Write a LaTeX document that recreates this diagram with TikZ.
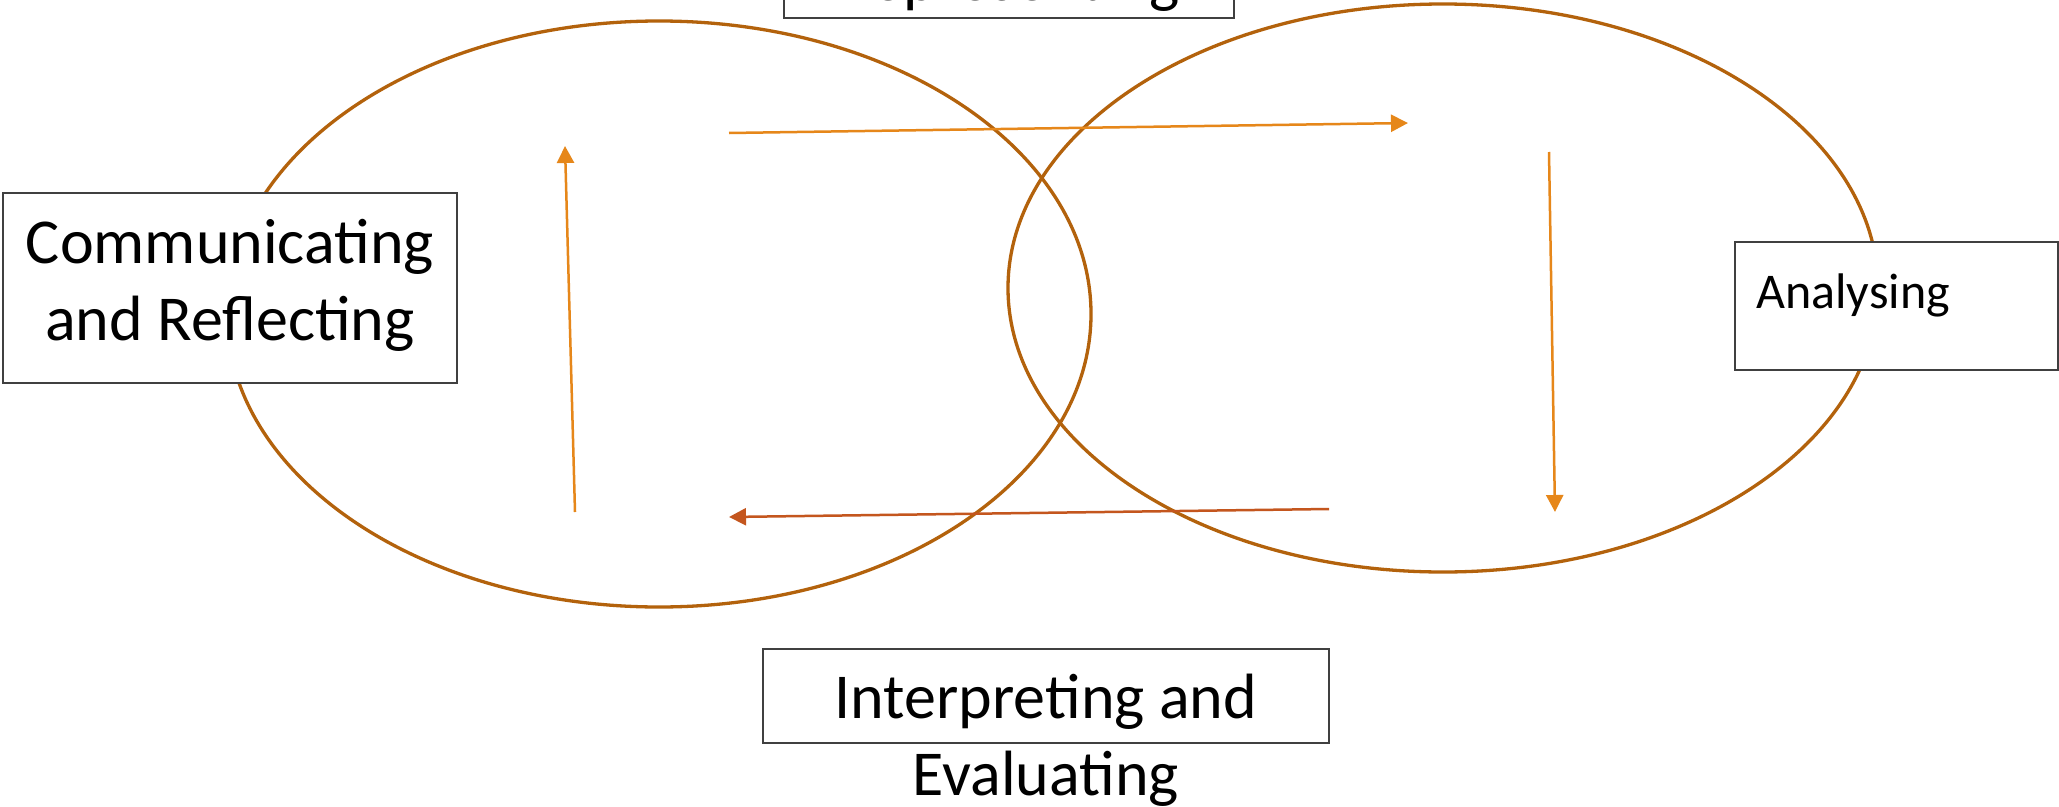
\documentclass[tikz,border=0pt]{standalone}
\usepackage{fontspec}
\setmainfont{Carlito}
\usetikzlibrary{arrows.meta}
\definecolor{ellcol}{HTML}{B3620C}
\definecolor{arrcol}{HTML}{E6871A}
\definecolor{arrred}{HTML}{C4561E}
\definecolor{boxcol}{HTML}{404040}
\begin{document}
\begin{tikzpicture}[x=1pt,y=-1pt,
  ring/.style={draw=ellcol,line width=3.3pt},
  flow/.style={draw=arrcol,line width=2.5pt,-{Triangle[length=17pt,width=17pt]}},
  flowback/.style={flow,draw=arrred},
  labelbox/.style={draw=boxcol,line width=1.6pt,fill=white,inner sep=0pt},
  labeltext/.style={font=\fontsize{64}{77}\selectfont,align=center,inner sep=0pt,anchor=base}
]
\useasboundingbox[fill=white] (0,0) rectangle (2059,806);
% ellipses
\draw[ring] (659,314) ellipse [x radius=432, y radius=293];
\draw[ring] (1443,288) ellipse [x radius=435, y radius=284];
% boxes
\node[labelbox,minimum width=454pt,minimum height=190pt] (crbox) at (230,288) {};
\node[labeltext] (cr) at (230,340) {Communicating\\and Reflecting};
\node[labelbox,minimum width=450pt,minimum height=98pt] (repbox) at (1009,-31) {};
\node[labeltext] (rep) at (1009,0) {Representing};
\node[labelbox,minimum width=323pt,minimum height=128pt] (anbox) at (1896.5,306) {};
\node[labeltext,font=\fontsize{50}{60}\selectfont,anchor=base west] (an) at (1756,308) {Analysing};
\node[labelbox,minimum width=566pt,minimum height=94pt] (iebox) at (1046,696) {};
\node[labeltext] (ie) at (1046,795) {Interpreting and\\Evaluating};
% arrows
\coordinate (a1) at (729,133); \coordinate (a2) at (1408,123);
\coordinate (b1) at (1549,152); \coordinate (b2) at (1555,512);
\coordinate (c1) at (1329,509); \coordinate (c2) at (729,517);
\coordinate (d1) at (575,512); \coordinate (d2) at (565,146);
\draw[flow] (a1) -- (a2);
\draw[flow] (b1) -- (b2);
\draw[flowback] (c1) -- (c2);
\draw[flow] (d1) -- (d2);
\end{tikzpicture}
\end{document}
